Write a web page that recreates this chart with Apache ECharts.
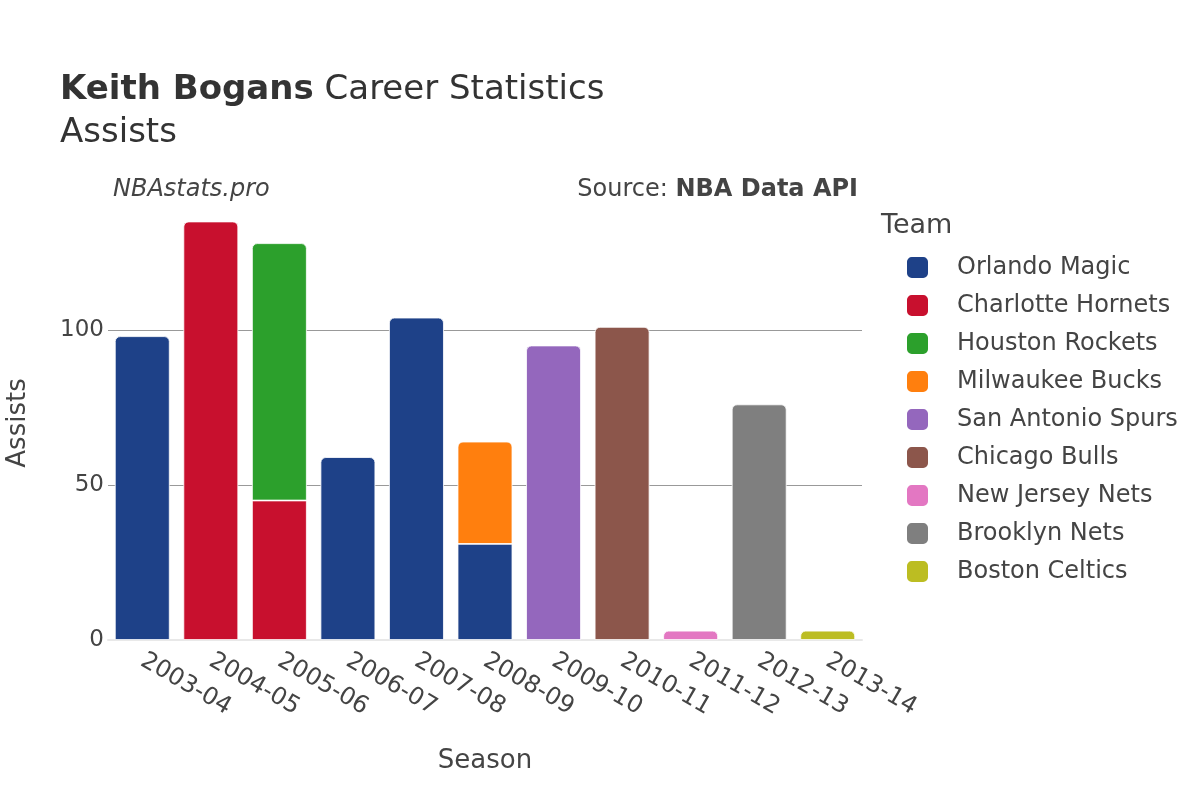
<!DOCTYPE html>
<html>
<head>
<meta charset="utf-8">
<script src="https://cdn.jsdelivr.net/npm/echarts@6/dist/echarts.min.js"></script>
<style>
  html, body { margin: 0; padding: 0; background: #fff; }
  #chart { width: 1200px; height: 800px; }
</style>
</head>
<body>
<div id="chart"></div>
<script>
// 赛季与各队助攻
const seasons = ['2003-04', '2004-05', '2005-06', '2006-07', '2007-08', '2008-09',
  '2009-10', '2010-11', '2011-12', '2012-13', '2013-14'];
const teams = ['Orlando Magic', 'Charlotte Hornets', 'Houston Rockets', 'Milwaukee Bucks',
  'San Antonio Spurs', 'Chicago Bulls', 'New Jersey Nets', 'Brooklyn Nets', 'Boston Celtics'];
const teamColors = ['#1E4188', '#C8102E', '#2CA02C', '#FF7F0E', '#9467BD',
  '#8C564B', '#E377C2', '#7F7F7F', '#BCBD22'];

const orlando   = [98, null, null, 59, 104, 31, null, null, null, null, null];
const charlotte = [null, 135, 45, null, null, null, null, null, null, null, null];
const houston   = [null, null, 83, null, null, null, null, null, null, null, null];
const milwaukee = [null, null, null, null, null, 33, null, null, null, null, null];
const spurs     = [null, null, null, null, null, null, 95, null, null, null, null];
const bulls     = [null, null, null, null, null, null, null, 101, null, null, null];
const njNets    = [null, null, null, null, null, null, null, null, 3, null, null];
const bkNets    = [null, null, null, null, null, null, null, null, null, 76, null];
const celtics   = [null, null, null, null, null, null, null, null, null, null, 3];

const teamValues = [orlando, charlotte, houston, milwaukee, spurs, bulls, njNets, bkNets, celtics];

// 堆叠最上层才有圆角
function topIndexFor(col) {
  let top = -1;
  teamValues.forEach((arr, i) => { if (arr[col] != null) top = i; });
  return top;
}

const series = teams.map((name, i) => ({
  name,
  type: 'bar',
  stack: 'total',
  barCategoryGap: '20%',
  itemStyle: { color: teamColors[i], borderColor: '#fff', borderWidth: 0.8 },
  data: teamValues[i].map((v, col) => v == null ? null : {
    value: v,
    itemStyle: { borderRadius: topIndexFor(col) === i ? [5, 5, 0, 0] : 0 }
  })
}));

const chart = echarts.init(document.getElementById('chart'));
chart.setOption({
  animation: false,
  textStyle: { fontFamily: 'DejaVu Sans' },
  grid: { left: 108, right: 338, top: 206, height: 434, outerBoundsMode: 'none', containLabel: false },
  xAxis: {
    type: 'category',
    data: seasons,
    axisLine: { lineStyle: { color: '#e8e8e8', width: 2 } },
    axisTick: { show: false },
    axisLabel: { rotate: -30, fontSize: 24, color: '#444', margin: 19 },
    name: 'Season',
    nameLocation: 'middle',
    nameGap: 108,
    nameTextStyle: { fontSize: 26, color: '#444' }
  },
  yAxis: {
    type: 'value',
    min: 0,
    max: 140,
    interval: 50,
    axisLine: { show: false },
    axisTick: { show: false },
    splitLine: { showMaxLine: false, lineStyle: { color: '#999', width: 1 } },
    axisLabel: { fontSize: 23, color: '#444', margin: 4, showMaxLabel: false },
    name: 'Assists',
    nameLocation: 'middle',
    nameGap: 77,
    nameTextStyle: { fontSize: 26, color: '#444' }
  },
  legend: {
    orient: 'vertical',
    left: 900,
    top: 250,
    icon: 'roundRect',
    itemWidth: 23,
    itemHeight: 23,
    itemGap: 13,
    data: teams,
    textStyle: { fontSize: 24, color: '#444', padding: [0, 0, 0, 23] }
  },
  graphic: [
    {
      type: 'text', left: 60, top: 73,
      style: {
        text: '{b|Keith Bogans} Career Statistics',
        rich: { b: { fontWeight: 'bold', fontSize: 34, fill: '#333', fontFamily: 'DejaVu Sans' } },
        fontSize: 34, fill: '#333', fontFamily: 'DejaVu Sans'
      }
    },
    {
      type: 'text', left: 60, top: 116,
      style: { text: 'Assists', fontSize: 34, fill: '#333', fontFamily: 'DejaVu Sans' }
    },
    {
      type: 'text', left: 113, top: 178,
      style: { text: 'NBAstats.pro', fontSize: 24, fontStyle: 'italic', fill: '#444', fontFamily: 'DejaVu Sans' }
    },
    {
      type: 'text', right: 342, top: 178,
      style: {
        text: 'Source: {b|NBA Data API}',
        rich: { b: { fontWeight: 'bold', fontSize: 24, fill: '#444', fontFamily: 'DejaVu Sans' } },
        fontSize: 24, fill: '#444', fontFamily: 'DejaVu Sans'
      }
    },
    {
      type: 'text', left: 881, top: 212,
      style: { text: 'Team', fontSize: 27, fill: '#444', fontFamily: 'DejaVu Sans' }
    }
  ],
  series
});
</script>
</body>
</html>
